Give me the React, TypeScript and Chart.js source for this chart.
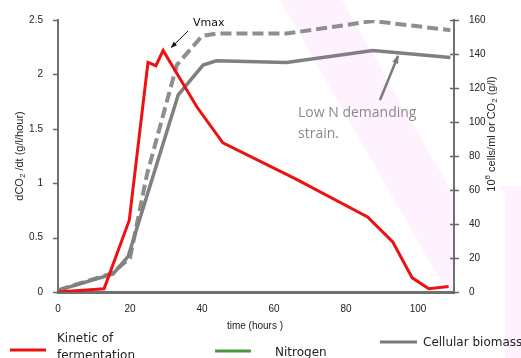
import React, { useEffect, useRef } from 'react';
import { Chart, registerables } from 'chart.js';
Chart.register(...registerables);

// Kinetic of fermentation (dCO2/dt, g/l/hour) – left axis
const kineticTime = [0, 12.8, 19.8, 25, 27.2, 29.2, 38.6, 45.8, 66, 86, 93, 98.4, 103, 108.5];
const kineticRate = [0, 0.03, 0.66, 2.11, 2.08, 2.22, 1.7, 1.37, 1.04, 0.69, 0.46, 0.13, 0.03, 0.05];

// Cellular biomass (low N demanding strain) – right axis, solid
const biomassTime = [0, 15.3, 19.5, 33.4, 40.3, 44, 63.5, 87.5, 109];
const biomassValue = [1, 10.6, 21, 116, 133.5, 136, 135, 142, 138];

// CO2 released (g/l) – right axis, dashed
const co2Time = [0, 15, 20, 24.7, 33, 40, 44, 63.5, 87.5, 109];
const co2Value = [1, 11, 20, 69, 133.5, 150.6, 152, 152, 159.4, 154];

const xTickValues = [0, 20, 40, 60, 80, 100];
const leftTickValues = [0, 0.5, 1, 1.5, 2, 2.5];
const rightTickValues = [0, 20, 40, 60, 80, 100, 120, 140, 160];

const legendLabels = ['Kinetic of', 'fermentation', 'Nitrogen', 'Cellular biomass'];

const W = 521;
const H = 358;

function arrow(ctx: CanvasRenderingContext2D, x1: number, y1: number, x2: number, y2: number, color: string, lw: number, head: number) {
  ctx.save();
  ctx.strokeStyle = color;
  ctx.fillStyle = color;
  ctx.lineWidth = lw;
  ctx.beginPath();
  ctx.moveTo(x1, y1);
  ctx.lineTo(x2, y2);
  ctx.stroke();
  const a = Math.atan2(y2 - y1, x2 - x1);
  ctx.beginPath();
  ctx.moveTo(x2 + Math.cos(a) * 1, y2 + Math.sin(a) * 1);
  ctx.lineTo(x2 - head * Math.cos(a - 0.4), y2 - head * Math.sin(a - 0.4));
  ctx.lineTo(x2 - head * Math.cos(a + 0.4), y2 - head * Math.sin(a + 0.4));
  ctx.closePath();
  ctx.fill();
  ctx.restore();
}

type Part = { t: string; shift?: number; small?: boolean };

function drawParts(ctx: CanvasRenderingContext2D, parts: Part[], cx: number, cy: number, size: number, family: string, color: string) {
  const fontFor = (p: Part) => `${p.small ? Math.round(size * 0.7) : size}px ${family}`;
  let total = 0;
  for (const p of parts) {
    ctx.font = fontFor(p);
    total += ctx.measureText(p.t).width;
  }
  let x = cx - total / 2;
  ctx.fillStyle = color;
  ctx.textAlign = 'left';
  ctx.textBaseline = 'middle';
  for (const p of parts) {
    ctx.font = fontFor(p);
    ctx.fillText(p.t, x, cy + (p.shift || 0));
    x += ctx.measureText(p.t).width;
  }
}

const decorPlugin = {
  id: 'decor',
  beforeDraw(chart: any) {
    const ctx: CanvasRenderingContext2D = chart.ctx;
    const ca = chart.chartArea;
    ctx.save();
    ctx.fillStyle = '#ffffff';
    ctx.fillRect(0, 0, W, H);
    ctx.fillStyle = 'rgb(253,242,253)';
    ctx.beginPath();
    ctx.moveTo(280, 0);
    ctx.lineTo(342, 0);
    ctx.lineTo(ca.right, 196);
    ctx.lineTo(ca.right, ca.bottom);
    ctx.lineTo(447, ca.bottom);
    ctx.closePath();
    ctx.fill();
    ctx.beginPath();
    ctx.moveTo(500, 186);
    ctx.lineTo(W, 186);
    ctx.lineTo(W, H);
    ctx.lineTo(505, H);
    ctx.lineTo(505, 196);
    ctx.closePath();
    ctx.fill();
    ctx.restore();
  },
  afterDraw(chart: any) {
    const ctx: CanvasRenderingContext2D = chart.ctx;
    const ca = chart.chartArea;
    const yL = chart.scales.y;
    const yR = chart.scales.y1;
    const xS = chart.scales.x;
    ctx.save();
    // tick marks
    ctx.strokeStyle = '#666';
    ctx.lineWidth = 1.5;
    for (const v of leftTickValues) {
      const py = Math.round(yL.getPixelForValue(v)) + 0.5;
      ctx.beginPath();
      ctx.moveTo(ca.left - 5, py);
      ctx.lineTo(ca.left, py);
      ctx.stroke();
    }
    for (const v of rightTickValues) {
      const py = Math.round(yR.getPixelForValue(v)) + 0.5;
      ctx.beginPath();
      ctx.moveTo(ca.right - 4, py);
      ctx.lineTo(ca.right + 5, py);
      ctx.stroke();
    }

    // Vmax annotation
    ctx.fillStyle = '#111';
    ctx.font = '11px "DejaVu Sans"';
    ctx.textAlign = 'left';
    ctx.textBaseline = 'middle';
    ctx.fillText('Vmax', 193, 23);
    arrow(ctx, 188, 31, xS.getPixelForValue(31.5), yL.getPixelForValue(2.23) - 2, '#111', 1, 6);

    // Low N demanding strain annotation
    ctx.fillStyle = '#8a8a8a';
    ctx.font = '14px "Open Sans"';
    ctx.fillText('Low N demanding', 298, 113);
    ctx.fillText('strain.', 298, 134);
    arrow(ctx, 380, 100, 398, 56, '#7a7a7a', 2.5, 8);

    // axis titles
    drawParts(ctx, [{ t: 'time (hours )' }], 255, 326, 10, '"Liberation Sans"', '#222');

    ctx.save();
    ctx.translate(20, 156);
    ctx.rotate(-Math.PI / 2);
    drawParts(ctx, [{ t: 'dCO' }, { t: '2', small: true, shift: 3 }, { t: ' /dt (g/l/hour)' }], 0, 0, 11, '"Liberation Sans"', '#222');
    ctx.restore();

    ctx.save();
    ctx.translate(492, 134);
    ctx.rotate(-Math.PI / 2);
    drawParts(
      ctx,
      [{ t: '10' }, { t: '6', small: true, shift: -4 }, { t: ' cells/ml or CO' }, { t: '2', small: true, shift: 3 }, { t: ' (g/l)' }],
      0, 0, 11, '"Liberation Sans"', '#222'
    );
    ctx.restore();

    // legend
    ctx.lineWidth = 3;
    ctx.strokeStyle = '#ee1111';
    ctx.beginPath(); ctx.moveTo(10, 350); ctx.lineTo(46, 350); ctx.stroke();
    ctx.strokeStyle = '#4a9a3c';
    ctx.beginPath(); ctx.moveTo(215, 351); ctx.lineTo(251, 351); ctx.stroke();
    ctx.strokeStyle = '#7a7a7a';
    ctx.beginPath(); ctx.moveTo(380, 342); ctx.lineTo(417, 342); ctx.stroke();
    ctx.fillStyle = '#222';
    ctx.font = '12px "DejaVu Sans"';
    ctx.textAlign = 'left';
    ctx.textBaseline = 'middle';
    ctx.fillText(legendLabels[0], 57, 339);
    ctx.fillText(legendLabels[1], 57, 356);
    ctx.fillText(legendLabels[2], 275, 353);
    ctx.fillText(legendLabels[3], 423, 343);
    ctx.restore();
  },
};

export default function App() {
  const ref = useRef<HTMLCanvasElement>(null);
  useEffect(() => {
    if (!ref.current) return;
    const toXY = (xs: number[], ys: number[]) => xs.map((x, i) => ({ x, y: ys[i] }));
    const tickFont = { family: '"Liberation Sans"', size: 10 };
    const fmt = (v: any) => String(v);
    const chart = new Chart(ref.current, {
      type: 'line',
      data: {
        datasets: [
          {
            label: 'Kinetic of fermentation',
            data: toXY(kineticTime, kineticRate),
            yAxisID: 'y',
            borderColor: '#ee1111',
            borderWidth: 3,
            pointRadius: 0,
            tension: 0,
            order: 0,
          },
          {
            label: 'Cellular biomass',
            data: toXY(biomassTime, biomassValue),
            yAxisID: 'y1',
            borderColor: '#808080',
            borderWidth: 3.5,
            pointRadius: 0,
            tension: 0,
            order: 1,
          },
          {
            label: 'CO2',
            data: toXY(co2Time, co2Value),
            yAxisID: 'y1',
            borderColor: '#8e8e8e',
            borderWidth: 4,
            borderDash: [11, 5],
            pointRadius: 0,
            tension: 0,
            order: 2,
          },
        ],
      },
      options: {
        responsive: false,
        animation: false,
        devicePixelRatio: 1,
        layout: { padding: { top: 20, right: 0, left: 0, bottom: 0 } },
        plugins: { legend: { display: false }, tooltip: { enabled: false } },
        scales: {
          x: {
            type: 'linear',
            min: 0,
            max: 110,
            afterBuildTicks: (s: any) => { s.ticks = xTickValues.map((v) => ({ value: v })); },
            afterFit: (s: any) => { s.height = 66; },
            grid: { display: false },
            border: { color: '#707070', width: 3 },
            ticks: { font: tickFont, color: '#222', padding: 3, maxRotation: 0, callback: fmt },
          },
          y: {
            position: 'left',
            min: 0,
            max: 2.5,
            afterBuildTicks: (s: any) => { s.ticks = leftTickValues.map((v) => ({ value: v })); },
            afterFit: (s: any) => { s.width = 58; },
            grid: { display: false },
            border: { color: '#707070', width: 2 },
            ticks: { font: tickFont, color: '#222', padding: 7, callback: fmt },
          },
          y1: {
            position: 'right',
            min: 0,
            max: 160,
            afterBuildTicks: (s: any) => { s.ticks = rightTickValues.map((v) => ({ value: v })); },
            afterFit: (s: any) => { s.width = W - 454; },
            grid: { display: false },
            border: { color: '#707070', width: 2 },
            ticks: { font: tickFont, color: '#222', padding: 7, callback: fmt },
          },
        },
      },
      plugins: [decorPlugin],
    } as any);
    return () => chart.destroy();
  }, []);
  return (
    <div style={{ position: 'fixed', left: 0, top: 0, width: W, height: H, background: '#fff' }}>
      <canvas ref={ref} width={W} height={H} style={{ display: 'block' }} />
    </div>
  );
}
